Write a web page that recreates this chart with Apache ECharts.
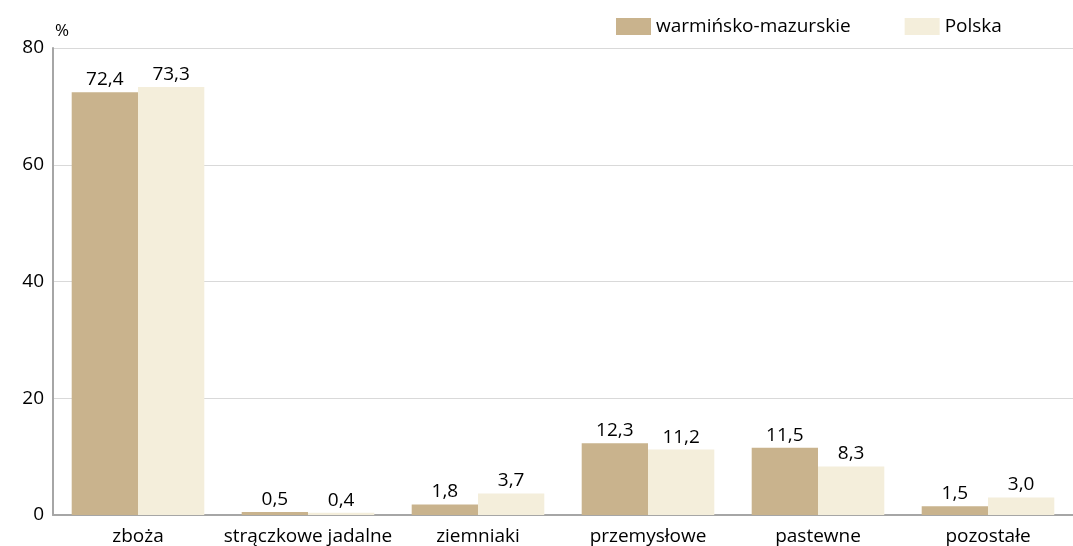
<!DOCTYPE html>
<html>
<head>
<meta charset="utf-8">
<script src="https://cdn.jsdelivr.net/npm/echarts@6/dist/echarts.min.js"></script>
<style>
  html, body { margin: 0; padding: 0; background: #fff; }
  #chart { width: 1073px; height: 546px; }
</style>
</head>
<body>
<div id="chart"></div>
<script>
// dane
const categories = ['zboża', 'strączkowe jadalne', 'ziemniaki', 'przemysłowe', 'pastewne', 'pozostałe'];
const warminskoMazurskie = [72.4, 0.5, 1.8, 12.3, 11.5, 1.5];
const polska = [73.3, 0.4, 3.7, 11.2, 8.3, 3.0];
const seriesNames = ['warmińsko-mazurskie', 'Polska'];

const FONT = 'Open Sans';
const FS = 19;

const chart = echarts.init(document.getElementById('chart'));

const labelOpt = {
  show: true,
  position: 'top',
  distance: 3,
  color: '#000',
  fontFamily: FONT,
  fontSize: FS,
  formatter: p => p.value.toFixed(1).replace('.', ',')
};

chart.setOption({
  animation: false,
  textStyle: { fontFamily: FONT },
  legend: {
    top: 12,
    left: 611,
    itemWidth: 35,
    itemHeight: 17,
    itemGap: 54,
    icon: 'rect',
    textStyle: { fontFamily: FONT, fontSize: FS, color: '#000' },
    data: seriesNames
  },
  grid: { left: 53, right: 0, top: 48, bottom: 28 },
  xAxis: {
    type: 'category',
    data: categories,
    axisLine: { lineStyle: { color: '#a6a6a6', width: 2 } },
    axisTick: { show: false },
    axisLabel: { color: '#000', fontFamily: FONT, fontSize: FS, margin: 12, interval: 0 }
  },
  yAxis: {
    type: 'value',
    min: 0,
    max: 80,
    interval: 20,
    name: '%',
    nameLocation: 'end',
    nameGap: 8,
    nameTextStyle: { color: '#000', fontFamily: FONT, fontSize: 17, align: 'left', padding: [0, 0, 0, 2] },
    axisLine: { show: true, lineStyle: { color: '#a6a6a6', width: 2 } },
    axisTick: { show: false },
    axisLabel: { color: '#000', fontFamily: FONT, fontSize: FS, margin: 9 },
    splitLine: { lineStyle: { color: '#d9d9d9', width: 1 } }
  },
  series: [
    {
      name: seriesNames[0],
      type: 'bar',
      data: warminskoMazurskie,
      itemStyle: { color: '#c9b38d' },
      barGap: '0%',
      barCategoryGap: '22%',
      label: labelOpt
    },
    {
      name: seriesNames[1],
      type: 'bar',
      data: polska,
      itemStyle: { color: '#f4eedb' },
      label: labelOpt
    }
  ]
});
</script>
</body>
</html>
